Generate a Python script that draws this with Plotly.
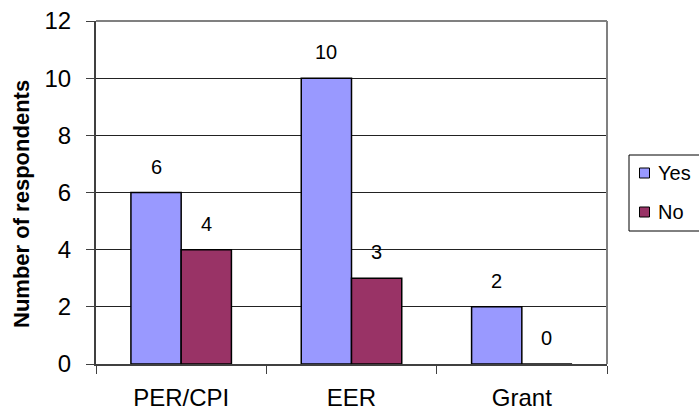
import plotly.graph_objects as go

# Survey responses per funding mechanism
categories = ["PER/CPI", "EER", "Grant"]
series_names = ["Yes", "No"]
yes_counts = [6, 10, 2]
no_counts = [4, 3, 0]
series_values = [yes_counts, no_counts]
series_colors = ["#9999FF", "#993366"]

y_ticks = [0, 2, 4, 6, 8, 10, 12]

W, H = 699, 412
ML, MR, MT, MB = 96, 92, 21, 48
BARGAP = 0.41
FONT = "Arial, Liberation Sans, sans-serif"


def px_x(px):
    return (px - ML) / (W - ML - MR)


def px_y(py):
    return (H - MB - py) / (H - MT - MB)


fig = go.Figure()
for name, vals, col in zip(series_names, series_values, series_colors):
    fig.add_trace(go.Bar(
        x=categories, y=vals, name=name,
        marker=dict(color=col, line=dict(color="#000000", width=1.5)),
        showlegend=False,
    ))

# value labels above each bar
bar_w = (1 - BARGAP) / len(series_names)
annotations = []
for s, vals in enumerate(series_values):
    off = -(1 - BARGAP) / 2 + bar_w * (s + 0.5)
    for i, v in enumerate(vals):
        annotations.append(dict(
            x=i + off, y=v, xref="x", yref="y", text=str(v),
            showarrow=False, yshift=26, yanchor="middle",
            font=dict(family=FONT, size=20, color="#000000"),
        ))

# y axis title
annotations.append(dict(
    x=px_x(21), y=px_y(204), xref="paper", yref="paper",
    text="<b>Number of respondents</b>", textangle=-90, showarrow=False,
    xanchor="center", yanchor="middle",
    font=dict(family=FONT, size=22, color="#000000"),
))

shapes = [
    # plot-area border (top and right)
    dict(type="line", xref="paper", yref="paper", x0=0, x1=1, y0=1, y1=1,
         line=dict(color="#808080", width=2), layer="above"),
    dict(type="line", xref="paper", yref="paper", x0=1, x1=1, y0=0, y1=1,
         line=dict(color="#808080", width=2), layer="above"),
    # legend box
    dict(type="rect", xref="paper", yref="paper",
         x0=px_x(629), x1=px_x(706), y0=px_y(231), y1=px_y(155),
         line=dict(color="#000000", width=1), fillcolor="#FFFFFF"),
]

# legend entries
for k, (name, col) in enumerate(zip(series_names, series_colors)):
    cy = 173 + 39 * k
    shapes.append(dict(
        type="rect", xref="paper", yref="paper",
        x0=px_x(639.5), x1=px_x(649.5), y0=px_y(cy + 5), y1=px_y(cy - 5),
        line=dict(color="#000000", width=1), fillcolor=col,
    ))
    annotations.append(dict(
        x=px_x(656), y=px_y(cy), xref="paper", yref="paper", text=name,
        showarrow=False, xanchor="left", yanchor="middle",
        font=dict(family=FONT, size=20, color="#000000"),
    ))

fig.update_layout(
    width=W, height=H,
    margin=dict(l=ML, r=MR, t=MT, b=MB, pad=0, autoexpand=False),
    paper_bgcolor="#FFFFFF", plot_bgcolor="#FFFFFF",
    barmode="group", bargap=BARGAP, bargroupgap=0,
    font=dict(family=FONT, color="#000000"),
    annotations=annotations, shapes=shapes,
    showlegend=False,
)
fig.update_xaxes(
    type="category", showgrid=False, zeroline=False, automargin=False,
    showline=True, linecolor="#404040", linewidth=2,
    ticks="outside", tickson="boundaries", ticklen=8, tickcolor="#404040", tickwidth=1,
    tickfont=dict(family=FONT, size=24, color="#000000"),
    ticklabelstandoff=11,
)
fig.update_yaxes(
    range=[0, 12], tickvals=y_ticks, ticktext=[str(t) for t in y_ticks],
    showgrid=True, gridcolor="#222222", gridwidth=1, zeroline=False, automargin=False,
    showline=True, linecolor="#404040", linewidth=2,
    ticks="outside", ticklen=8, tickcolor="#404040", tickwidth=1,
    tickfont=dict(family=FONT, size=24, color="#000000"),
    ticklabelstandoff=10,
)

fig.write_html("out.html")
